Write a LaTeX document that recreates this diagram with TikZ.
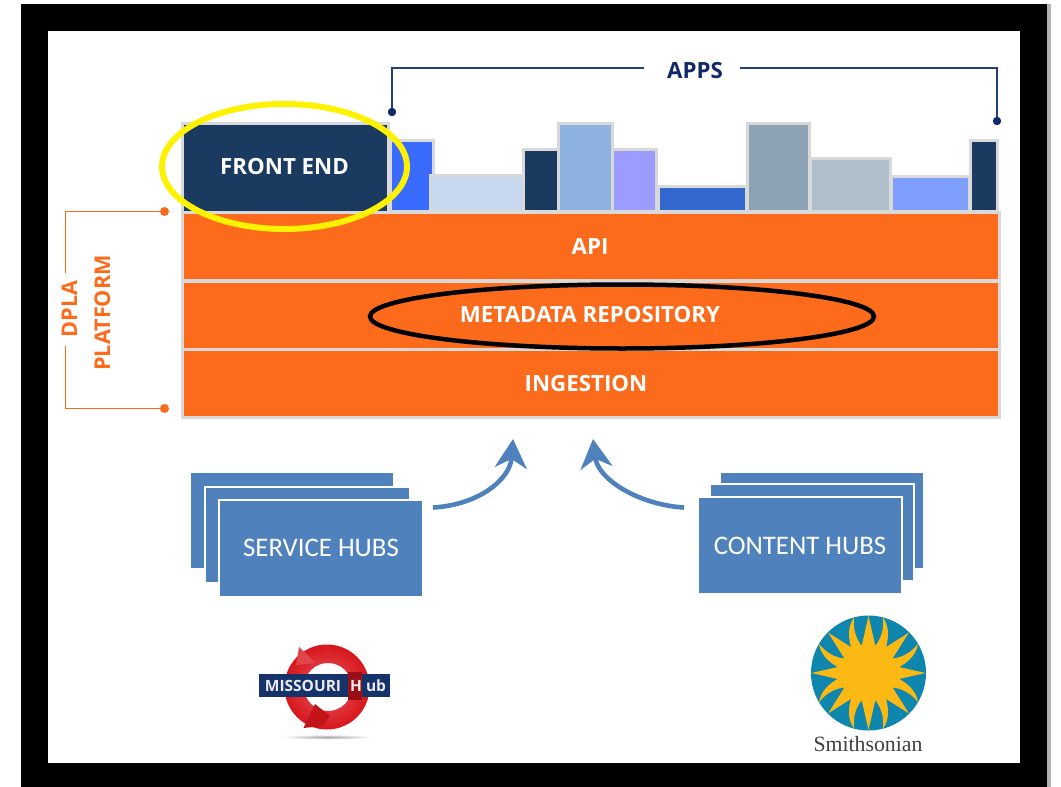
\documentclass[tikz,border=0pt]{standalone}
\usepackage{fontspec}
\setmainfont{Open Sans}
\newfontfamily\serifname{Liberation Serif}
\newfontfamily\hubname{Carlito}
\usetikzlibrary{arrows.meta,shapes.geometric,fadings}
\definecolor{navy}{HTML}{1A3A60}
\definecolor{appline}{HTML}{23407A}
\definecolor{appdot}{HTML}{0F2A66}
\definecolor{orangefill}{HTML}{FC6B1C}
\definecolor{edge}{HTML}{D9D9D9}
\definecolor{hubblue}{HTML}{4F81BD}
\definecolor{ringred}{HTML}{D8161C}
\definecolor{barnavy}{HTML}{16326B}
\definecolor{sea}{HTML}{0E86AE}
\definecolor{sun}{HTML}{FDB913}
\tikzset{
  every node/.style={inner sep=0pt,outer sep=0pt},
  bar/.style={draw=edge,line width=2.8pt,fill=#1},
  layerbox/.style={draw=edge,line width=3pt,fill=orangefill},
  layertext/.style={text=white,font=\bfseries\fontsize{22.3}{24}\selectfont},
  hubbox/.style={draw=white,line width=1.2pt,fill=hubblue},
  hubtext/.style={text=white,font=\hubname\fontsize{26.8}{28}\selectfont},
  apline/.style={draw=appline,line width=1.6pt},
  opline/.style={draw=orangefill,line width=1.3pt},
  sidetext/.style={rotate=90,text=orangefill,font=\bfseries\fontsize{21.6}{24}\selectfont},
  logotext/.style={text=white!92!black,font=\bfseries\fontsize{15.5}{17}\selectfont},
  hubarrow/.style={draw=hubblue,line width=4.6pt,-{Stealth[length=29pt,width=32pt,inset=9pt]}},
}
\newcommand{\rct}[6]{\node[#1,minimum width=#4-#2,minimum height=#5-#3,anchor=north west] (#6) at (#2,#3) {};}
\begin{document}
\begin{tikzpicture}[x=1pt,y=-1pt]
\useasboundingbox (0,0) rectangle (1061,787);
\fill[white] (0,0) rectangle (1061,787);
\fill[gray!60] (1047,4) rectangle (1051,787);
\fill[black] (21,4) rectangle (1047,787);
\fill[white] (48,31) rectangle (1020,763);
% apps bars
\foreach \xa/\xb/\yt/\c/\n in {
 391.5/432/142/3A6BFF/a,
 432/522/177/C6D7EE/b,
 524.6/556.5/151/1A3A60/c,
 560/611/125/8EB2E0/d,
 614/655/151/9C9CFF/e,
 659.6/745/188/3369CF/f,
 749/808/125/8EA2B6/g,
 811.6/889/160/B0BFCC/h,
 892.5/968/178/7F9FFF/i,
 971.5/996/142/1A3A60/j}{
  \definecolor{tmpc}{HTML}{\c}
  \path[bar=tmpc] (\xa-1.4,\yt-1.4) rectangle (\xb+1.4,211.5);
}
% front end
\node[draw=edge,line width=3pt,fill=navy,minimum width=205.5pt,minimum height=89pt] (front) at (285.25,168) {};
\node[layertext] (frontt) at (284.5,167) {FRONT END};
% layers
\node[layerbox,minimum width=817pt,minimum height=68pt] (api) at (591,246.5) {};
\node[layerbox,minimum width=817pt,minimum height=68pt] (meta) at (591,315) {};
\node[layerbox,minimum width=817pt,minimum height=68pt] (ing) at (591,383.5) {};
\node[layertext] (apit) at (590,247) {API};
\node[layertext] (metat) at (590,315) {METADATA REPOSITORY};
\node[layertext] (ingt) at (586,384) {INGESTION};
% ellipses
\node[draw=yellow,line width=6pt,ellipse,minimum width=245pt,minimum height=125pt] (hl1) at (284.5,166.5) {};
\node[draw=black,line width=4.5pt,ellipse,minimum width=504pt,minimum height=64pt] (hl2) at (622,316.5) {};
% APPS bracket
\node[layertext,text=appdot] (apps) at (695,71) {APPS};
\coordinate (appl) at (392,112);
\coordinate (appr) at (997,121);
\coordinate (appa) at (644,68);
\coordinate (appb) at (740,68);
\draw[apline] (appa) -- (appl |- appa) -- (appl);
\draw[apline] (appb) -- (appr |- appb) -- (appr);
\fill[appdot] (appl) circle (4.2pt) (appr) circle (4.2pt);
% DPLA bracket
\coordinate (dt) at (164.5,211.5);
\coordinate (db) at (164.5,408.5);
\coordinate (gt) at (65.5,273);
\coordinate (gb) at (65.5,346);
\draw[opline] (dt) -- (gt |- dt) -- (gt);
\draw[opline] (db) -- (gb |- db) -- (gb);
\fill[orangefill] (dt) circle (4.5pt) (db) circle (4.5pt);
\node[sidetext] (dpla) at (69.5,309) {DPLA};
\node[sidetext] (plat) at (102.5,313) {PLATFORM};
% hubs
\rct{hubbox}{190}{472}{394}{569}{s1}
\rct{hubbox}{205}{487}{410}{583}{s2}
\rct{hubbox}{219}{500}{423}{597}{s3}
\node[hubtext] (st) at (321,548) {SERVICE HUBS};
\rct{hubbox}{720}{472}{923.5}{569}{c1}
\rct{hubbox}{710}{484}{914}{581}{c2}
\rct{hubbox}{698.5}{497}{902}{594}{c3}
\node[hubtext] (ct) at (800,546) {CONTENT HUBS};
% arrows
\coordinate (al) at (433,507.5);
\coordinate (ar) at (684,507.5);
\coordinate (tl) at (513,439);
\coordinate (tr) at (593,439);
\draw[hubarrow] (al) .. controls (478,505) and (510,480) .. (tl);
\draw[hubarrow] (ar) .. controls (640,505) and (598,480) .. (tr);
% Missouri logo
\shade[inner color=black!35,outer color=white] (327,737) ellipse (46pt and 2.5pt);
\begin{scope}
  \shade[even odd rule,inner color=ringred!70!white,outer color=ringred,shading=radial]
    (327,687) circle (42.5pt) (328,687) circle (24pt);
  \fill[ringred!80!white] (299,647) -- (296,665) -- (316,663) -- cycle;
  \fill[ringred!90!black] (303.5,728) -- (315,704) -- (330,716) -- (322,726) -- cycle;
\end{scope}
\fill[barnavy] (259,674) rectangle (390,697);
\fill[ringred!70!black] (348,672) rectangle (362,700);
\node[logotext] (mo) at (303,686) {MISSOURI};
\node[logotext] (h) at (356,686) {H};
\node[logotext] (ub) at (376,686) {ub};
% Smithsonian logo
\fill[sea] (868.5,673) circle (57.5pt);
\begin{scope}[shift={(868.5,673)}]
  \fill[sun] (0,0) circle (29pt);
  \foreach \a in {0,45,...,315}{
    \fill[sun,rotate=\a] (24,-7.5) -- (57,0) -- (24,7.5) -- cycle;
  }
  \foreach \a/\s in {22.5/1,67.5/1,112.5/-1,157.5/-1,202.5/1,247.5/1,292.5/-1,337.5/-1}{
    \fill[sun,rotate=\a,yscale=\s] (24,-5) .. controls (34,-2) and (44,-1) .. (57,-8)
      .. controls (50,3) and (38,6) .. (24,7) -- cycle;
  }
\end{scope}
\node[text=black!75,font={\serifname\fontsize{21.8}{24}\selectfont}] (smith) at (868,744) {Smithsonian};
\end{tikzpicture}
\end{document}
